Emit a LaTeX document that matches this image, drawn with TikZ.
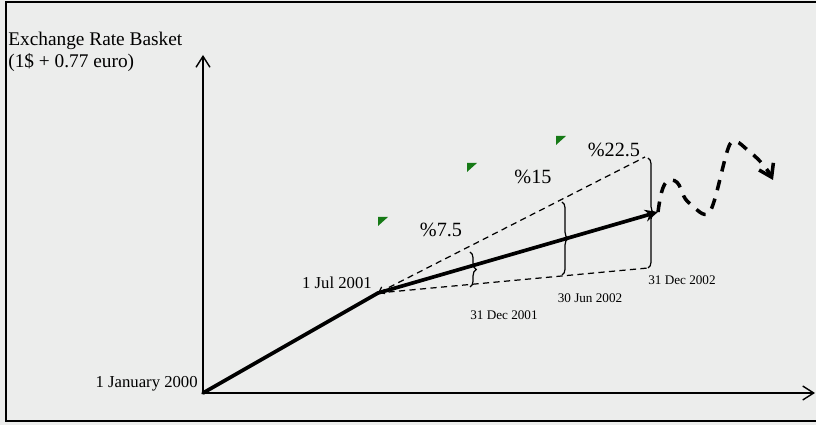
\documentclass[tikz,border=0pt]{standalone}
\usepackage{fontspec}
\setmainfont{Liberation Serif}
\usetikzlibrary{positioning,arrows.meta,decorations.pathreplacing}
\definecolor{panelgray}{RGB}{236,237,236}
\definecolor{flaggreen}{RGB}{22,122,22}

\begin{document}
\begin{tikzpicture}[
  x=0.02cm, y=-0.02cm,
  >={Stealth[length=2mm]},
  axis/.style={-{Straight Barb[length=2.2mm,width=2.8mm]},line width=0.8pt},
  path/.style={line width=2.1pt,line cap=round},
  band/.style={line width=0.7pt,dash pattern=on 3.5pt off 2.5pt},
  bracket/.style={decorate,decoration={brace,amplitude=3.5pt},line width=0.7pt},
  wiggle/.style={line width=2pt,dash pattern=on 6pt off 5pt,
                 -{Straight Barb[length=2.4mm,width=3.2mm]}},
  flag/.style={fill=flaggreen},
  ylbl/.style={font=\fontsize{11}{13}\selectfont,inner sep=0pt},
  datelbl/.style={font=\fontsize{9.5}{11}\selectfont,inner sep=0pt},
  smalldate/.style={font=\fontsize{7.5}{9}\selectfont,inner sep=0pt},
  pct/.style={font=\fontsize{11.5}{13}\selectfont,inner sep=0pt}]

\useasboundingbox (0,0) rectangle (816,425);
\fill[panelgray] (0,0) rectangle (816,425);
\draw[line width=1.2pt] (6,2) rectangle (830,421);

% --- axes and the fixed points of the path ---
\coordinate (origin) at (203,393);
\coordinate (ytop)   at (203,55);
\coordinate (xend)   at (815,393);
\coordinate (jul)    at (378,293);
\coordinate (dec02)  at (658,212);
\coordinate (hi)     at (645,157);
\coordinate (lo)     at (648,268);

\draw[axis] (origin) -- (ytop);
\draw[axis] (origin) -- (xend);

\node[ylbl,anchor=west] (ytitle) at (8,41) {Exchange Rate Basket};
\node[ylbl,anchor=west] (yunit)  at (8,63) {(1\$ + 0.77 euro)};

% --- band round the crawling peg ---
\draw[band,{Straight Barb[length=1mm,width=1.5mm]}-] (jul) -- (hi);
\draw[band] (jul) -- (lo);

\draw[path] (origin) -- (jul);
\draw[path,-{Stealth[length=2.6mm,width=2.4mm]}] (jul) -- (dec02);

\foreach \x/\t/\b in {470/252/287, 562/202/275, 648/158/268}
  \draw[bracket] (\x,\t) -- (\x,\b);

% --- after the band: free float ---
\draw[wiggle] (dec02) .. controls (661,190) and (664,180) .. (671,180)
  .. controls (682,180) and (680,195) .. (688,202)
  .. controls (697,209) and (703,218) .. (709,213)
  .. controls (716,205) and (724,155) .. (730,144)
  .. controls (735,136) and (742,146) .. (750,152)
  .. controls (760,160) and (768,170) .. (773,180);

% green markers
\foreach \p in {(378,217),(467,163),(556,136)}
  \fill[flag] \p -- ++(10,0) -- ++(-10,9) -- cycle;

% --- labels ---
\node[datelbl,anchor=east] (d2000) at (198,384) {1 January 2000};
\node[datelbl] (d2001) at (337,283) {1 Jul 2001};
\node[smalldate] (dec01lbl) at (504,315) {31 Dec 2001};
\node[smalldate] (jun02lbl) at (590,298) {30 Jun 2002};
\node[smalldate] (dec02lbl) at (682,280) {31 Dec 2002};

\node[pct] (p1) at (441,230) {\%7.5};
\node[pct] (p2) at (533,177) {\%15};
\node[pct] (p3) at (614,150) {\%22.5};

\end{tikzpicture}
\end{document}
